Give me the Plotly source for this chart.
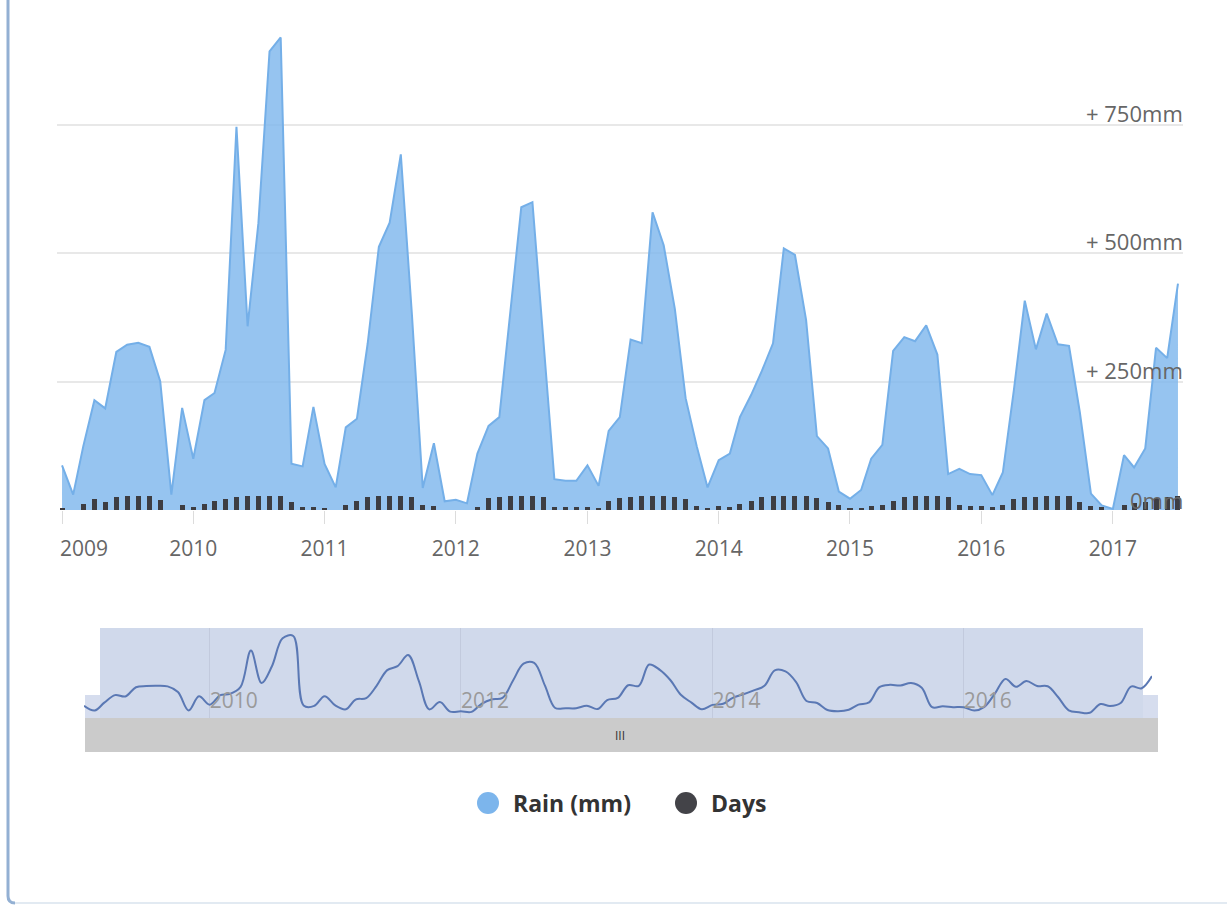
import pandas as pd
import plotly.graph_objects as go

W, H = 1227, 905
FONT = "Open Sans"

# Monthly observations, January 2009 to July 2017
months = pd.date_range("2009-01-01", "2017-07-01", freq="MS")

rain_mm = [
    87, 30, 124, 214, 198, 308, 322, 326, 318, 251, 30, 199,      # 2009
    100, 214, 228, 312, 747, 358, 559, 894, 921, 90, 85, 201,     # 2010
    90, 44, 161, 178, 325, 513, 560, 693, 380, 43, 130, 17,       # 2011
    20, 13, 110, 164, 181, 392, 590, 600, 330, 60, 57, 57,        # 2012
    87, 47, 154, 181, 332, 325, 580, 516, 392, 218, 124, 44,      # 2013
    97, 110, 181, 224, 271, 325, 510, 497, 370, 144, 120, 36,     # 2014
    22, 39, 100, 127, 310, 337, 329, 360, 303, 70, 80, 70,        # 2015
    68, 29, 73, 235, 408, 313, 383, 323, 320, 191, 32, 9,         # 2016
    2, 107, 83, 120, 316, 296, 441,                               # 2017
]

rain_days = [
    2, 0, 12, 22, 16, 26, 28, 28, 28, 20, 0, 9,
    6, 11, 18, 21, 26, 28, 28, 28, 28, 16, 5, 5,
    4, 0, 9, 18, 25, 28, 28, 28, 25, 9, 7, 0,
    0, 0, 5, 23, 25, 28, 28, 28, 25, 6, 5, 5,
    5, 4, 18, 23, 25, 28, 28, 28, 25, 21, 7, 3,
    7, 5, 11, 18, 25, 28, 28, 28, 28, 23, 16, 9,
    4, 3, 7, 9, 18, 25, 28, 28, 28, 25, 9, 7,
    7, 5, 9, 21, 25, 25, 28, 28, 28, 16, 7, 5,
    0, 9, 14, 16, 23, 25, 28,
]

year_ticks = [f"{y}-01-01" for y in range(2009, 2018)]
year_labels = [str(y) for y in range(2009, 2018)]
nav_ticks = ["2010-01-01", "2012-01-01", "2014-01-01", "2016-01-01"]
nav_labels = ["2010", "2012", "2014", "2016"]
mm_ticks = [0, 250, 500, 750]
mm_labels = ["0mm", "+ 250mm", "+ 500mm", "+ 750mm"]


def px(x):
    return x / W


def py(y):
    return 1 - y / H


DAY_MS = 86400000
bar_width = 14 * DAY_MS

fig = go.Figure()

# Rainfall area
fig.add_trace(go.Scatter(
    x=months, y=rain_mm, name="Rain (mm)", mode="lines",
    line=dict(color="#74afe8", width=2),
    fill="tozeroy", fillcolor="rgba(124,181,236,0.8)",
    xaxis="x", yaxis="y", showlegend=False,
))

# Rainy days columns, on an overlaying axis so they sit above the area
fig.add_trace(go.Bar(
    x=months, y=rain_days, name="Days", width=bar_width,
    marker=dict(color="#3d3d42", line=dict(width=0)),
    xaxis="x", yaxis="y2", showlegend=False,
))

# Navigator series
fig.add_trace(go.Scatter(
    x=months, y=rain_mm, mode="lines",
    line=dict(color="#5a78b4", width=2, shape="spline", smoothing=1),
    xaxis="x2", yaxis="y3", showlegend=False, hoverinfo="skip",
))

main_x = [px(57), px(1183)]
main_y = [py(510), py(20)]
nav_x = [px(84), px(1152)]
nav_y = [py(718), py(628)]
y_range = [0, 955]

shapes = [
    # navigator backgrounds
    dict(type="rect", xref="paper", yref="paper", x0=px(85), x1=px(1158),
         y0=py(718), y1=py(695), fillcolor="#d6ddee", line=dict(width=0), layer="below"),
    dict(type="rect", xref="paper", yref="paper", x0=px(100), x1=px(1143),
         y0=py(718), y1=py(628), fillcolor="#d0d9eb", line=dict(width=0), layer="below"),
    # scrollbar
    dict(type="rect", xref="paper", yref="paper", x0=px(85), x1=px(1158),
         y0=py(752), y1=py(718), fillcolor="#cbcbcb", line=dict(width=0), layer="below"),
    # container border
    dict(type="path", xref="paper", yref="paper",
         path=f"M {px(8)},{py(0)} L {px(8)},{py(896)} Q {px(8)},{py(903)} {px(15)},{py(903)}",
         line=dict(color="#93b0d3", width=3), layer="above"),
    dict(type="line", xref="paper", yref="paper", x0=px(15), x1=px(1227),
         y0=py(903), y1=py(903), line=dict(color="#e2eaf2", width=2), layer="above"),
    # legend markers
    dict(type="circle", xref="paper", yref="paper", x0=px(477), x1=px(499),
         y0=py(814), y1=py(792), fillcolor="#7cb5ec", line=dict(width=0)),
    dict(type="circle", xref="paper", yref="paper", x0=px(675), x1=px(697),
         y0=py(814), y1=py(792), fillcolor="#434348", line=dict(width=0)),
]

label_font = dict(family=FONT, size=21, color="#666666")

annotations = [
    dict(text=year_labels[0], x=year_ticks[0], xref="x", y=py(548), yref="paper",
         xanchor="left", yanchor="middle", xshift=-4, showarrow=False,
         font=label_font),
    dict(text="III", x=px(620), y=py(735), xref="paper", yref="paper",
         xanchor="center", yanchor="middle", showarrow=False,
         font=dict(family=FONT, size=12, color="#333333")),
    dict(text="<b>Rain (mm)</b>", x=px(511), y=py(803), xref="paper", yref="paper",
         xanchor="left", yanchor="middle", showarrow=False,
         font=dict(family=FONT, size=23, color="#333333")),
    dict(text="<b>Days</b>", x=px(709), y=py(803), xref="paper", yref="paper",
         xanchor="left", yanchor="middle", showarrow=False,
         font=dict(family=FONT, size=23, color="#333333")),
]

# Value labels sit inside the plot, right-aligned above each gridline
for v, t in zip(mm_ticks, mm_labels):
    annotations.append(dict(
        text=t, x=px(1185), xref="paper", y=v, yref="y",
        xanchor="right", yanchor="middle", yshift=12 if v else 10,
        showarrow=False, font=dict(family=FONT, size=22, color="#666666"),
    ))

fig.update_layout(
    width=W, height=H,
    margin=dict(l=0, r=0, t=0, b=0),
    paper_bgcolor="white",
    plot_bgcolor="rgba(0,0,0,0)",
    font=dict(family=FONT),
    showlegend=False,
    bargap=0,
    xaxis=dict(
        domain=main_x, anchor="y", type="date",
        range=["2008-12-18", "2017-07-15"],
        tickvals=year_ticks, ticktext=[""] + year_labels[1:],
        ticks="outside", ticklen=13, tickwidth=1, tickcolor="#dcdcdc",
        ticklabelstandoff=7,
        showgrid=False, showline=False, zeroline=False,
        tickfont=label_font,
    ),
    yaxis=dict(
        domain=main_y, anchor="x", range=y_range, side="right",
        tickvals=mm_ticks, showticklabels=False,
        showgrid=True, gridcolor="#e8e8e8", gridwidth=2,
        zeroline=False, showline=False, ticks="",
    ),
    yaxis2=dict(
        overlaying="y", anchor="x", range=y_range, visible=False,
    ),
    xaxis2=dict(
        domain=nav_x, anchor="y3", type="date",
        range=["2009-01-01", "2017-07-01"],
        tickvals=nav_ticks, ticktext=nav_labels,
        ticklabelposition="inside right", ticks="",
        showgrid=True, gridcolor="#c2cadd", gridwidth=1,
        showline=False, zeroline=False,
        tickfont=dict(family=FONT, size=21, color="#9a9a9a"),
    ),
    yaxis3=dict(
        domain=nav_y, anchor="x2", range=[-60, 1017], visible=False,
    ),
    shapes=shapes,
    annotations=annotations,
)

fig.write_html("out.html")
